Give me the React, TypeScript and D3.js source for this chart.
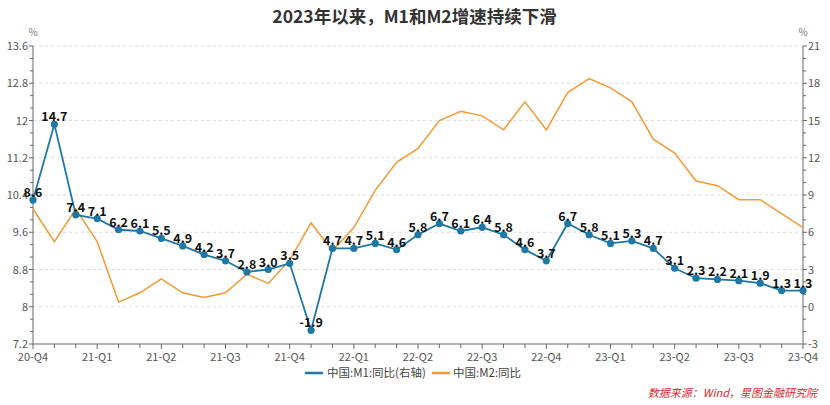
import React from "react";
import * as d3 from "d3";

const months: string[] = [
  "2020-12","2021-01","2021-02","2021-03","2021-04","2021-05","2021-06","2021-07","2021-08","2021-09","2021-10","2021-11","2021-12",
  "2022-01","2022-02","2022-03","2022-04","2022-05","2022-06","2022-07","2022-08","2022-09","2022-10","2022-11","2022-12",
  "2023-01","2023-02","2023-03","2023-04","2023-05","2023-06","2023-07","2023-08","2023-09","2023-10","2023-11","2023-12",
];
const m1: number[] = [8.6,14.7,7.4,7.1,6.2,6.1,5.5,4.9,4.2,3.7,2.8,3.0,3.5,-1.9,4.7,4.7,5.1,4.6,5.8,6.7,6.1,6.4,5.8,4.6,3.7,6.7,5.8,5.1,5.3,4.7,3.1,2.3,2.2,2.1,1.9,1.3,1.3];
const m2: number[] = [10.1,9.4,10.1,9.4,8.1,8.3,8.6,8.3,8.2,8.3,8.7,8.5,9.0,9.8,9.2,9.7,10.5,11.1,11.4,12.0,12.2,12.1,11.8,12.4,11.8,12.6,12.9,12.7,12.4,11.6,11.3,10.7,10.6,10.3,10.3,10.0,9.7];
const quarterLabels: string[] = ["20-Q4","21-Q1","21-Q2","21-Q3","21-Q4","22-Q1","22-Q2","22-Q3","22-Q4","23-Q1","23-Q2","23-Q3","23-Q4"];
const leftTicks: number[] = [7.2,8,8.8,9.6,10.4,11.2,12,12.8,13.6];
const rightTicks: number[] = [-3,0,3,6,9,12,15,18,21];

const W = 830, H = 405;
const L = 33, R = 803, T = 46, B = 344;
const FONT = "'Noto Sans CJK SC', 'Noto Sans', sans-serif";
const BLUE = "#1f77a4";
const ORANGE = "#f39a34";

export default function App() {
  const x = d3.scalePoint<string>().domain(months).range([L, R]);
  const yL = d3.scaleLinear().domain([7.2, 13.6]).range([B, T]);
  const yR = d3.scaleLinear().domain([-3, 21]).range([B, T]);
  const lineM1 = d3.line<number>().x((_, i) => x(months[i])!).y((d) => yR(d));
  const lineM2 = d3.line<number>().x((_, i) => x(months[i])!).y((d) => yL(d));

  const leftMinor: number[] = [];
  for (let i = 0; i < leftTicks.length - 1; i++) {
    const a = leftTicks[i], b = leftTicks[i + 1];
    for (let k = 1; k < 3; k++) leftMinor.push(a + ((b - a) * k) / 3);
  }
  const rightMinor: number[] = [];
  for (let i = 0; i < rightTicks.length - 1; i++) {
    const a = rightTicks[i], b = rightTicks[i + 1];
    for (let k = 1; k < 3; k++) rightMinor.push(a + ((b - a) * k) / 3);
  }

  return (
    <svg width={W} height={H} style={{ position: "absolute", left: 0, top: 0, background: "#fff" }} fontFamily={FONT}>
      <text x={414.5} y={23} textAnchor="middle" fontSize={17.5} fontWeight="bold" fill="#333">2023年以来，M1和M2增速持续下滑</text>

      {/* grid */}
      {leftTicks.slice(1).map((t) => (
        <line key={"g" + t} x1={L} x2={R} y1={yL(t)} y2={yL(t)} stroke="#dcdcdc" strokeDasharray="3,3" strokeWidth={1} />
      ))}

      {/* left axis */}
      <line x1={L} x2={L} y1={T} y2={B} stroke="#666" />
      {leftTicks.map((t) => (
        <g key={"lt" + t}>
          <line x1={L - 4} x2={L} y1={yL(t)} y2={yL(t)} stroke="#666" />
          <text x={L - 5} y={yL(t) + 4} textAnchor="end" fontSize={11} fill="#555">{String(t)}</text>
        </g>
      ))}
      {leftMinor.map((t, i) => (
        <line key={"lm" + i} x1={L - 3} x2={L} y1={yL(t)} y2={yL(t)} stroke="#666" />
      ))}
      <text x={L} y={36} textAnchor="middle" fontSize={10} fill="#777">%</text>

      {/* right axis */}
      <line x1={R} x2={R} y1={T} y2={B} stroke="#666" />
      {rightTicks.map((t) => (
        <g key={"rt" + t}>
          <line x1={R} x2={R + 4} y1={yR(t)} y2={yR(t)} stroke="#666" />
          <text x={R + 5} y={yR(t) + 4} textAnchor="start" fontSize={11} fill="#555">{String(t)}</text>
        </g>
      ))}
      {rightMinor.map((t, i) => (
        <line key={"rm" + i} x1={R} x2={R + 3} y1={yR(t)} y2={yR(t)} stroke="#666" />
      ))}
      <text x={R} y={36} textAnchor="middle" fontSize={10} fill="#777">%</text>

      {/* bottom axis */}
      <line x1={L} x2={R} y1={B} y2={B} stroke="#666" />
      {months.map((m, i) => (
        <line key={"xt" + m} x1={x(m)!} x2={x(m)!} y1={B} y2={B + (i % 3 === 0 ? 5 : 4)} stroke="#666" />
      ))}
      {quarterLabels.map((q, i) => (
        <text key={q} x={x(months[i * 3])!} y={361} textAnchor="middle" fontSize={11} fill="#555">{q}</text>
      ))}

      {/* lines */}
      <path d={lineM2(m2)!} fill="none" stroke={ORANGE} strokeWidth={1.5} />
      <path d={lineM1(m1)!} fill="none" stroke={BLUE} strokeWidth={1.8} />
      {m1.map((v, i) => (
        <circle key={"c" + i} cx={x(months[i])!} cy={yR(v)} r={3.6} fill={BLUE} />
      ))}
      {m1.map((v, i) => (
        <text key={"l" + i} x={x(months[i])!} y={yR(v) - 3} textAnchor="middle" fontSize={12.5} fontWeight="bold" fill="#111">{v.toFixed(1)}</text>
      ))}

      {/* legend */}
      <line x1={305} x2={323} y1={373} y2={373} stroke={BLUE} strokeWidth={2.5} />
      <text x={327} y={377} fontSize={11.5} fill="#444">中国:M1:同比(右轴)</text>
      <line x1={432} x2={450} y1={373} y2={373} stroke={ORANGE} strokeWidth={2.5} />
      <text x={453} y={377} fontSize={11.5} fill="#444">中国:M2:同比</text>

      {/* source */}
      <text x={817} y={397} textAnchor="end" fontSize={11} fontStyle="italic" fill="#d8292f">数据来源：Wind，星图金融研究院</text>
    </svg>
  );
}
